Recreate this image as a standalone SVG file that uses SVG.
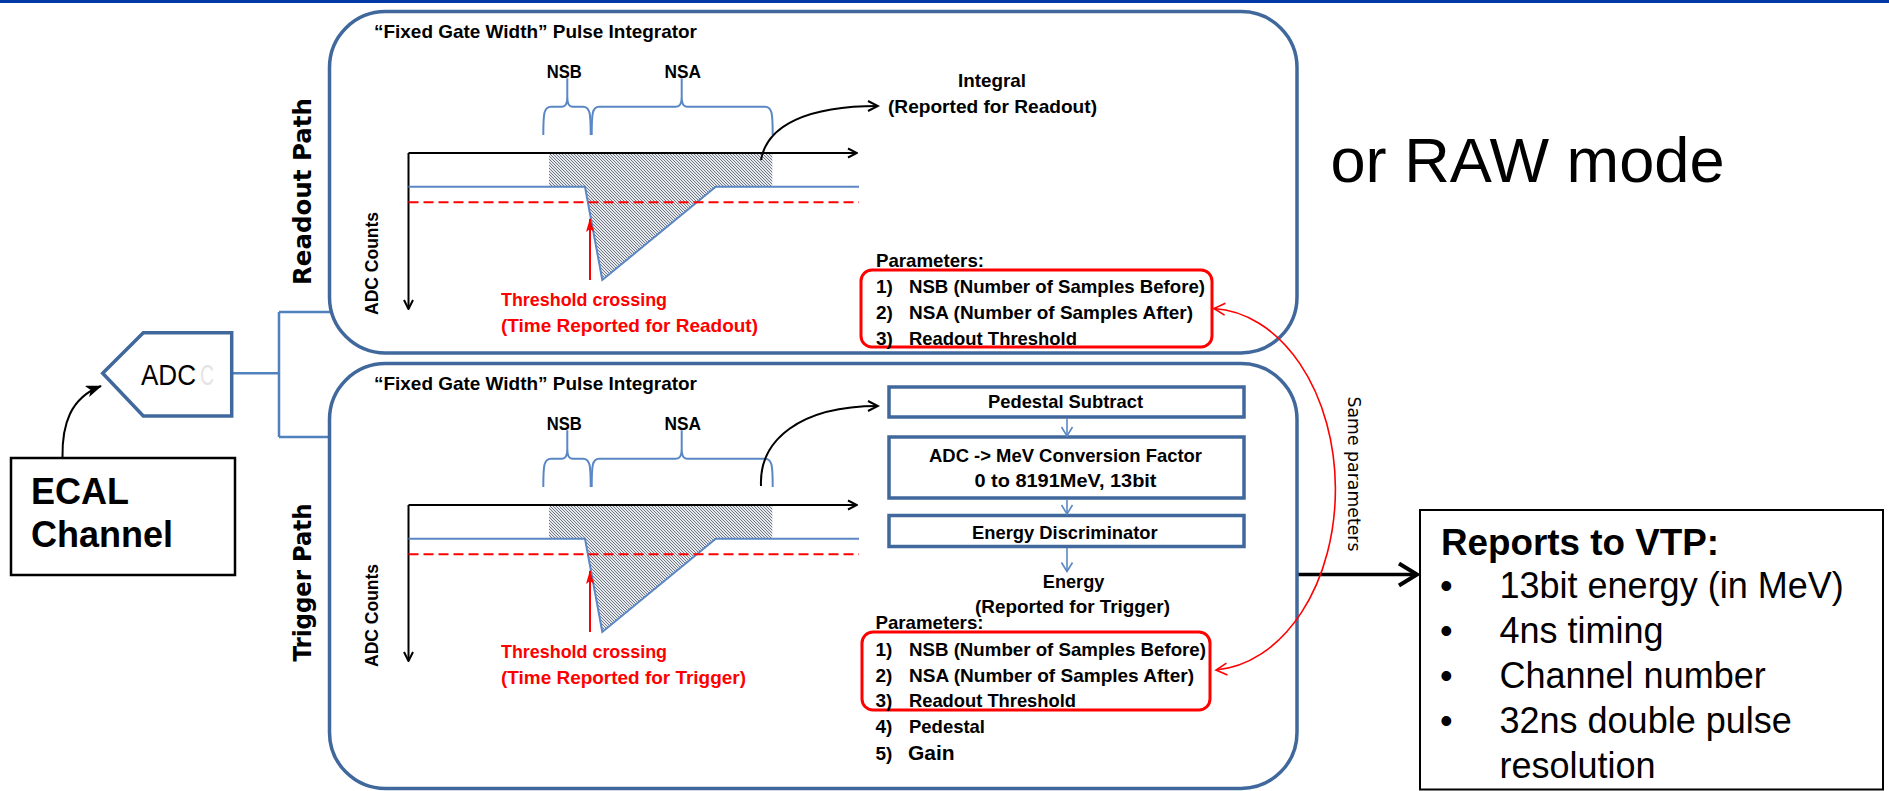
<svg xmlns="http://www.w3.org/2000/svg" width="1889" height="791" viewBox="0 0 1889 791">
<style>
.cb{font-family:"Liberation Sans",Arial,sans-serif;font-weight:bold;font-size:19px;fill:#000}
.red{fill:#ff0000}
.ar{font-family:"Liberation Sans",Arial,sans-serif}
.path{font-family:"DejaVu Sans",sans-serif;font-weight:bold;font-size:24px}
.frame{fill:#fff;stroke:#41689c;stroke-width:3.5}
.sub{fill:#fff;stroke:#41689c;stroke-width:3.5}
.rbox{fill:none;stroke:#ff0000;stroke-width:3}
.wire{fill:none;stroke:#4f81bd;stroke-width:2.5}
.brace{fill:none;stroke:#5b87c4;stroke-width:2}
.sig{fill:none;stroke:#5b87c4;stroke-width:2}
.axis{fill:none;stroke:#000;stroke-width:2}
</style>
<defs>
<pattern id="hatch" patternUnits="userSpaceOnUse" width="3" height="3">
<rect width="3" height="3" fill="#e6e8ec"/>
<path d="M-1,-1 L4,4 M-1,2 L1,4 M2,-1 L4,1" stroke="#5a6473" stroke-width="0.85"/>
</pattern>
<marker id="axArr" markerUnits="userSpaceOnUse" viewBox="0 0 12 12" refX="11" refY="6" markerWidth="12" markerHeight="12" orient="auto">
<path d="M2,1.5 L11,6 L2,10.5" fill="none" stroke="#000" stroke-width="2"/>
</marker>
<marker id="blkArr" markerUnits="userSpaceOnUse" viewBox="0 0 14 14" refX="12" refY="7" markerWidth="14" markerHeight="14" orient="auto">
<path d="M2,2 L12,7 L2,12" fill="none" stroke="#000" stroke-width="2"/>
</marker>
<marker id="redTri" markerUnits="userSpaceOnUse" viewBox="0 0 14 10" refX="13" refY="5" markerWidth="14" markerHeight="10" orient="auto">
<path d="M0,1 L14,5 L0,9 L3,5 z" fill="#ff0000"/>
</marker>
<marker id="redOpen" markerUnits="userSpaceOnUse" viewBox="0 0 16 16" refX="14" refY="8" markerWidth="16" markerHeight="16" orient="auto-start-reverse">
<path d="M3,2 L14,8 L3,14" fill="none" stroke="#ff0000" stroke-width="1.6"/>
</marker>
<marker id="blueOpen" markerUnits="userSpaceOnUse" viewBox="0 0 12 14" refX="11" refY="7" markerWidth="12" markerHeight="14" orient="auto">
<path d="M2,1.5 L11,7 L2,12.5" fill="none" stroke="#5b87c4" stroke-width="1.6"/>
</marker>
<marker id="bigArr" markerUnits="userSpaceOnUse" viewBox="0 0 24 26" refX="21" refY="13" markerWidth="24" markerHeight="26" orient="auto">
<path d="M3,2 L21,13 L3,24" fill="none" stroke="#000" stroke-width="4"/>
</marker>
<marker id="stealth" markerUnits="userSpaceOnUse" viewBox="0 0 16 12" refX="15" refY="6" markerWidth="16" markerHeight="12" orient="auto">
<path d="M0,0 L16,6 L0,12 L4,6 z" fill="#000"/>
</marker>
</defs>

<rect x="0" y="0" width="1889" height="3" fill="#0039a6"/>

<g id="connectors">
<path class="wire" d="M231.7,373.3 H279 M279,312 V437 M279,312 H330 M279,437 H330"/>
<path d="M62.5,457 C62,425 70,398 101,386" fill="none" stroke="#000" stroke-width="2" marker-end="url(#stealth)"/>
<path d="M1298,574.5 H1417" fill="none" stroke="#000" stroke-width="3.5" marker-end="url(#bigArr)"/>
</g>

<g id="ecal-channel">
<rect x="11" y="458" width="224" height="117" fill="#fff" stroke="#000" stroke-width="2.5"/>
<text class="ar" x="31" y="504" font-size="36" font-weight="bold">ECAL</text>
<text class="ar" x="31" y="547" font-size="36" font-weight="bold">Channel</text>
</g>

<g id="adc">
<path d="M102.7,373.3 L143.3,332.7 H231.7 V416 H143.3 Z" fill="#fff" stroke="#41689c" stroke-width="3.5"/>
<text x="141" y="385" font-family="'Liberation Sans',sans-serif" font-size="29" textLength="55" lengthAdjust="spacingAndGlyphs">ADC</text>
<text x="200" y="385" font-family="'Liberation Sans',sans-serif" font-size="29" fill="#e4e4e4" textLength="14" lengthAdjust="spacingAndGlyphs">C</text>
</g>

<g id="readout-path">
<rect class="frame" x="329.5" y="11.5" width="967.5" height="341.5" rx="56" ry="56"/>
<text class="path" transform="translate(311,191.5) rotate(-90)" text-anchor="middle" textLength="187" lengthAdjust="spacingAndGlyphs">Readout Path</text>
<g id="readout-plot">
<text class="cb" x="374" y="38" textLength="323" lengthAdjust="spacingAndGlyphs">“Fixed Gate Width” Pulse Integrator</text>
<text class="cb" x="546.7" y="78" textLength="35" lengthAdjust="spacingAndGlyphs">NSB</text>
<text class="cb" x="664.5" y="78" textLength="36.5" lengthAdjust="spacingAndGlyphs">NSA</text>
<path class="brace" d="M543.3,135 C543.3,113 544,106.7 551,106.7 H562 C566,106.7 567.3,103 567.3,97 V78.3 M567.3,97 C567.3,103 568.5,106.7 572.5,106.7 H583 C590,106.7 590.7,113 590.7,135"/>
<path class="brace" d="M591.7,135 C591.7,113 592.5,106.7 599,106.7 H676 C680,106.7 681.7,103 681.7,97 V78.3 M681.7,97 C681.7,103 683,106.7 687,106.7 H765 C772,106.7 772.7,113 772.7,135"/>
<path d="M549,153.3 H772.3 V186.7 H715.7 L602.3,280 L585,186.7 H549 Z" fill="url(#hatch)"/>
<path class="axis" d="M408.5,153 H857" marker-end="url(#axArr)"/>
<path class="axis" d="M408.5,153 V309" marker-end="url(#axArr)"/>
<path class="sig" d="M408.5,186.7 H585 L602.3,280 L715.7,186.7 H859"/>
<path d="M408.5,202.3 H859" stroke="#ff0000" stroke-width="2" stroke-dasharray="10,5" fill="none"/>
<path d="M590,280 V219" stroke="#ff0000" stroke-width="2" fill="none" marker-end="url(#redTri)"/>
<text class="cb" transform="translate(378,263.4) rotate(-90)" text-anchor="middle" font-size="17" textLength="103" lengthAdjust="spacingAndGlyphs">ADC Counts</text>
</g>
<text class="cb red" x="501" y="306" textLength="166" lengthAdjust="spacingAndGlyphs">Threshold crossing</text>
<text class="cb red" x="501" y="332" textLength="257" lengthAdjust="spacingAndGlyphs">(Time Reported for Readout)</text>
<path d="M761,160 C767,125 808,106 878,106" fill="none" stroke="#000" stroke-width="2" marker-end="url(#blkArr)"/>
<text class="cb" x="958" y="87" textLength="68" lengthAdjust="spacingAndGlyphs">Integral</text>
<text class="cb" x="888" y="113" textLength="209" lengthAdjust="spacingAndGlyphs">(Reported for Readout)</text>
<text class="cb" x="876" y="267" textLength="108" lengthAdjust="spacingAndGlyphs">Parameters:</text>
<rect class="rbox" x="861" y="270" width="351" height="77" rx="11" ry="11"/>
<text class="cb" x="876" y="293">1)</text>
<text class="cb" x="909" y="293" textLength="296" lengthAdjust="spacingAndGlyphs">NSB (Number of Samples Before)</text>
<text class="cb" x="876" y="319">2)</text>
<text class="cb" x="909" y="319" textLength="284" lengthAdjust="spacingAndGlyphs">NSA (Number of Samples After)</text>
<text class="cb" x="876" y="345">3)</text>
<text class="cb" x="909" y="345" textLength="168" lengthAdjust="spacingAndGlyphs">Readout Threshold</text>
</g>

<g id="trigger-path">
<rect class="frame" x="329.5" y="363.5" width="967.5" height="425" rx="56" ry="56"/>
<text class="path" transform="translate(311,582.5) rotate(-90)" text-anchor="middle" textLength="158" lengthAdjust="spacingAndGlyphs">Trigger Path</text>
<use href="#readout-plot" transform="translate(0,352)"/>
<text class="cb red" x="501" y="658" textLength="166" lengthAdjust="spacingAndGlyphs">Threshold crossing</text>
<text class="cb red" x="501" y="684" textLength="245" lengthAdjust="spacingAndGlyphs">(Time Reported for Trigger)</text>
<path d="M761,486 C759,440 800,406 878,406" fill="none" stroke="#000" stroke-width="2" marker-end="url(#blkArr)"/>
<g id="pedestal-subtract">
<rect class="sub" x="889" y="387" width="355" height="30"/>
<text class="cb" x="988" y="408.3" textLength="155" lengthAdjust="spacingAndGlyphs">Pedestal Subtract</text>
</g>
<g id="adc-mev">
<rect class="sub" x="889" y="437" width="355" height="61"/>
<text class="cb" x="929" y="461.7" textLength="273" lengthAdjust="spacingAndGlyphs">ADC -&gt; MeV Conversion Factor</text>
<text class="cb" x="974.5" y="486.7" textLength="182" lengthAdjust="spacingAndGlyphs">0 to 8191MeV, 13bit</text>
</g>
<g id="energy-discriminator">
<rect class="sub" x="889" y="515.5" width="355" height="31"/>
<text class="cb" x="972" y="539" textLength="185.6" lengthAdjust="spacingAndGlyphs">Energy Discriminator</text>
</g>
<g id="chain-arrows">
<path d="M1067,418.5 V436" fill="none" stroke="#5b87c4" stroke-width="1.6" marker-end="url(#blueOpen)"/>
<path d="M1067,499.5 V514" fill="none" stroke="#5b87c4" stroke-width="1.6" marker-end="url(#blueOpen)"/>
<path d="M1067,548 V571.5" fill="none" stroke="#5b87c4" stroke-width="1.6" marker-end="url(#blueOpen)"/>
</g>
<text class="cb" x="1042.8" y="588" textLength="61.6" lengthAdjust="spacingAndGlyphs">Energy</text>
<text class="cb" x="975" y="613" textLength="195" lengthAdjust="spacingAndGlyphs">(Reported for Trigger)</text>
<text class="cb" x="875.5" y="629" textLength="108" lengthAdjust="spacingAndGlyphs">Parameters:</text>
<rect class="rbox" x="862" y="632" width="348" height="78" rx="11" ry="11"/>
<text class="cb" x="875.5" y="655.7">1)</text>
<text class="cb" x="909" y="655.7" textLength="297" lengthAdjust="spacingAndGlyphs">NSB (Number of Samples Before)</text>
<text class="cb" x="875.5" y="681.7">2)</text>
<text class="cb" x="909" y="681.7" textLength="285" lengthAdjust="spacingAndGlyphs">NSA (Number of Samples After)</text>
<text class="cb" x="875.5" y="706.7">3)</text>
<text class="cb" x="909" y="706.7" textLength="167" lengthAdjust="spacingAndGlyphs">Readout Threshold</text>
<text class="cb" x="875.5" y="733">4)</text>
<text class="cb" x="909" y="733" textLength="76" lengthAdjust="spacingAndGlyphs">Pedestal</text>
<text class="cb" x="875.5" y="760">5)</text>
<text class="ar" x="908" y="760" font-size="21" font-weight="bold">Gain</text>
</g>

<g id="same-parameters">
<path d="M1214,308.5 A127,181 0 0 1 1216,670" fill="none" stroke="#ff0000" stroke-width="1.6" marker-start="url(#redOpen)" marker-end="url(#redOpen)"/>
<text transform="translate(1348,474) rotate(90)" text-anchor="middle" font-family="'DejaVu Sans',sans-serif" font-size="17" textLength="155" lengthAdjust="spacingAndGlyphs">Same parameters</text>
</g>

<g id="raw-mode">
<text class="ar" x="1330.5" y="181.7" font-size="63" textLength="394" lengthAdjust="spacingAndGlyphs">or RAW mode</text>
</g>

<g id="vtp">
<rect x="1420" y="510" width="463" height="279.5" fill="#fff" stroke="#000" stroke-width="2"/>
<text class="ar" x="1441" y="555" font-size="36" font-weight="bold" textLength="278" lengthAdjust="spacingAndGlyphs">Reports to VTP:</text>
<g class="ar" font-size="36">
<text x="1440" y="598">•</text>
<text x="1499.5" y="598">13bit energy (in MeV)</text>
<text x="1440" y="643">•</text>
<text x="1499.5" y="643">4ns timing</text>
<text x="1440" y="688">•</text>
<text x="1499.5" y="688">Channel number</text>
<text x="1440" y="733">•</text>
<text x="1499.5" y="733">32ns double pulse</text>
<text x="1499.5" y="778">resolution</text>
</g>
</g>
</svg>
